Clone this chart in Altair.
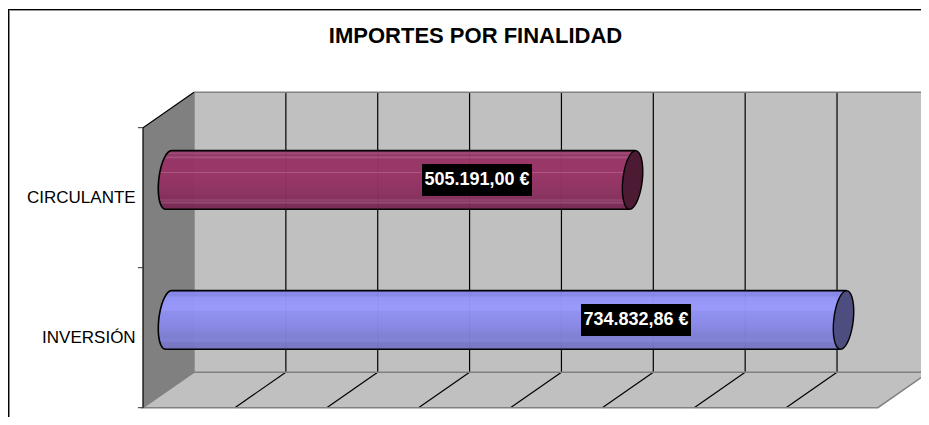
import altair as alt
import numpy as np
import pandas as pd

TITLE = "IMPORTES POR FINALIDAD"
CATEGORIES = ["INVERSIÓN", "CIRCULANTE"]
VALUES = [734832.86, 505191.00]
VALUE_LABELS = ["734.832,86 €", "505.191,00 €"]
LABEL_CENTRES = [536700.0, 363600.0]  # euros along the front axis, as placed in the reference
BODY_COLOURS = [
    [(0, "#7e7ee0"), (0.05, "#8a8aee"), (0.07, "#8484e6"), (0.12, "#9494f8"), (0.33, "#9999ff"), (0.35, "#9090f2"),
     (0.6, "#8888e6"), (0.78, "#7e7ed4"), (0.85, "#8282d8"), (0.9, "#7878c8"), (1, "#7474c0")],
    [(0, "#8a2f60"), (0.05, "#a04a78"), (0.07, "#8f3163"), (0.12, "#a8507e"), (0.14, "#973465"), (0.36, "#993366"),
     (0.37, "#ad5a85"), (0.39, "#993366"), (0.7, "#8c3060"), (0.83, "#842d5b"), (0.84, "#a35580"),
     (0.86, "#802c58"), (0.89, "#9a5078"), (0.91, "#7c2a56"), (1, "#762852")],
]
CAP_COLOURS = ["#4d4d80", "#4d1a33"]
GRID_VALUES = [100000, 200000, 300000, 400000, 500000, 600000, 700000]
AXIS_MAX = 800000
WALL = "#c0c0c0"
SIDE = "#808080"

# Plot size and 3-D projection of the reference's (value, category, depth) box
W, H = 913, 409
K = 91.86 / 100000        # px per euro
CAT = 140.0               # px per category
DEPTH_X, DEPTH_Y = 51.0, 35.5
X0, Y0 = 143.0 - 8, 407.7 - 8   # front-bottom corner inside plot


def px(v, d=0.0):
    return v + d * DEPTH_X / K


def py(c, d=0.0):
    return c + d * DEPTH_Y / CAT


xs = alt.Scale(domain=[-X0 / K, (W - X0) / K], range=[0, W], nice=False, zero=False)
ys = alt.Scale(domain=[-(H - Y0) / CAT, Y0 / CAT], range=[H, 0], nice=False, zero=False)
X = lambda f="x": alt.X(f"{f}:Q", scale=xs, axis=None)
Y = lambda f="y": alt.Y(f"{f}:Q", scale=ys, axis=None)


def poly(points, color="black", width=1.0):
    rows = [{"x": a, "y": b, "o": i} for i, (a, b) in enumerate(points)]
    return alt.Chart(pd.DataFrame(rows)).mark_line(color=color, strokeWidth=width, interpolate="linear").encode(
        x=X(), y=Y(), order="o:Q")


def segs(rows, color="black", width=1.0):
    return alt.Chart(pd.DataFrame(rows)).mark_rule(color=color, strokeWidth=width).encode(
        x=X("x"), x2="x2:Q", y=Y("y"), y2="y2:Q")


layers = []

# Frame of the chart
layers.append(alt.Chart(pd.DataFrame({"a": [0]})).mark_rule(color="#999999").encode(
    x=alt.value(1.5), y=alt.value(2), y2=alt.value(H)))
layers.append(alt.Chart(pd.DataFrame({"a": [0]})).mark_rule(color="#999999").encode(
    x=alt.value(1), x2=alt.value(W), y=alt.value(2.5)))
layers.append(alt.Chart(pd.DataFrame({"a": [0]})).mark_rule(color="black", strokeWidth=1.2).encode(
    x=alt.value(0.5), y=alt.value(1), y2=alt.value(H)))
layers.append(alt.Chart(pd.DataFrame({"a": [0]})).mark_rule(color="black", strokeWidth=1.2).encode(
    x=alt.value(0), x2=alt.value(W), y=alt.value(1.5)))

# Back wall
layers.append(alt.Chart(pd.DataFrame([{"x": px(0, 1), "x2": px(AXIS_MAX, 1), "y": py(0, 1), "y2": py(2, 1)}]))
              .mark_rect(color=WALL).encode(x=X("x"), x2="x2:Q", y=Y("y"), y2="y2:Q"))

# Floor
floor = pd.DataFrame([
    {"x": px(0, 0), "y": py(0, 0), "y2": py(0, 0)},
    {"x": px(0, 1), "y": py(0, 1), "y2": py(0, 0)},
    {"x": px(AXIS_MAX, 0), "y": py(0, 1), "y2": py(0, 0)},
    {"x": px(AXIS_MAX, 1), "y": py(0, 1), "y2": py(0, 1)},
])
layers.append(alt.Chart(floor).mark_area(color=WALL, interpolate="linear").encode(x=X(), y=Y(), y2="y2:Q"))

# Side wall
side = pd.DataFrame([
    {"x": px(0, 0), "y": py(2, 0), "y2": py(0, 0)},
    {"x": px(0, 1), "y": py(2, 1), "y2": py(0, 1)},
])
layers.append(alt.Chart(side).mark_area(color=SIDE, interpolate="linear").encode(x=X(), y=Y(), y2="y2:Q"))

# Grid on the wall and floor
layers.append(segs([{"x": px(v, 1), "x2": px(v, 1), "y": py(0, 1), "y2": py(2, 1)} for v in GRID_VALUES], "black", 1.2))
layers.append(segs([{"x": px(v, 0), "x2": px(v, 1), "y": py(0, 0), "y2": py(0, 1)} for v in GRID_VALUES], "black", 1.2))

# Gray edges
layers.append(poly([(px(0, 1), py(2, 1)), (px(AXIS_MAX, 1), py(2, 1)), (px(AXIS_MAX, 1), py(0, 1)), (px(0, 1), py(0, 1)),
                    (px(0, 1), py(2, 1))], color=SIDE, width=1.4))
layers.append(poly([(px(0, 1), py(0, 1)), (px(0, 0), py(0, 0)), (px(AXIS_MAX, 0), py(0, 0)), (px(AXIS_MAX, 1), py(0, 1))],
                   color=SIDE, width=1.5))

# Axis lines and ticks
layers.append(poly([(px(0, 1), py(2, 1)), (px(0, 0), py(2, 0)), (px(0, 0), py(0, 0))], color="black", width=1.2))
layers.append(segs([{"x": px(-5500), "x2": px(0), "y": float(c), "y2": float(c)} for c in range(3)], "#333333"))

# Cylinders
RAD_C = 29.3 / CAT
RX, SKEW = 9.8 / K, 3.0 / K
t = np.radians(np.arange(0, 361, 10))
for i, (cat, val) in enumerate(zip(CATEGORIES, VALUES)):
    cy = py(i + 0.5, 0.5)
    x_start, x_end = px(0, 0.5), px(val, 0.5)

    def ring(cx):
        return cx + RX * np.cos(t) + SKEW * np.sin(t), cy + RAD_C * np.sin(t)

    # body: left half of the near end, straight sides up to the far end
    lx, ly = ring(x_start)
    half = (t >= np.pi / 2) & (t <= 3 * np.pi / 2)
    hx, hy = lx[half], ly[half]           # from top, through left, to bottom
    imin = int(np.argmin(hx))
    top_x, top_y = hx[:imin + 1][::-1], hy[:imin + 1][::-1]
    bot_x, bot_y = hx[imin:], hy[imin:]
    xgrid = sorted(set(list(hx) + [x_end]))
    body = pd.DataFrame({
        "x": xgrid,
        "y": [float(np.interp(a, top_x, top_y, right=cy + RAD_C)) for a in xgrid],
        "y2": [float(np.interp(a, bot_x, bot_y, right=cy - RAD_C)) if a <= bot_x.max() else cy - RAD_C for a in xgrid],
    })
    gradient = alt.Gradient(gradient="linear", x1=0, x2=0, y1=0, y2=1,
                            stops=[alt.GradientStop(offset=o, color=c) for o, c in BODY_COLOURS[i]])
    layers.append(alt.Chart(body).mark_area(color=gradient, opacity=0.97, interpolate="linear").encode(
        x=X(), y=Y(), y2="y2:Q"))
    layers.append(poly([(x_end + SKEW, cy + RAD_C)] + list(zip(hx, hy)) + [(x_end - SKEW, cy - RAD_C)], width=1.6))

    # far end
    rx, ry = ring(x_end)
    tmask = np.sin(t) >= 0
    ux, uy = rx[tmask], ry[tmask]
    dx, dy = rx[~tmask], ry[~tmask]
    ui, di = np.argsort(ux), np.argsort(dx)
    cap_x = sorted(set(list(rx)))
    cap = pd.DataFrame({
        "x": cap_x,
        "y": [float(np.interp(a, ux[ui], uy[ui])) for a in cap_x],
        "y2": [float(np.interp(a, dx[di], dy[di])) for a in cap_x],
    })
    layers.append(alt.Chart(cap).mark_area(color=CAP_COLOURS[i], interpolate="linear").encode(x=X(), y=Y(), y2="y2:Q"))
    layers.append(poly(list(zip(rx, ry)), width=1.4))

    # value label
    lab = pd.DataFrame([{
        "x": LABEL_CENTRES[i] - 55 / K, "x2": LABEL_CENTRES[i] + 55 / K,
        "y": cy - 16 / CAT, "y2": cy + 16 / CAT,
        "tx": LABEL_CENTRES[i], "ty": cy, "t": VALUE_LABELS[i]}])
    layers.append(alt.Chart(lab).mark_rect(color="black").encode(x=X("x"), x2="x2:Q", y=Y("y"), y2="y2:Q"))
    layers.append(alt.Chart(lab).mark_text(color="white", fontWeight="bold", font="Liberation Sans", fontSize=18,
                                           baseline="middle", align="center").encode(
        x=X("tx"), y=Y("ty"), text="t:N"))

# Category labels
cats = pd.DataFrame({"x": [px(-8000)] * 2, "y": [py(i + 0.5) - 0.005 for i in range(2)], "t": CATEGORIES})
layers.append(alt.Chart(cats).mark_text(color="black", font="Liberation Sans", fontSize=17, align="right",
                                        baseline="middle").encode(x=X(), y=Y(), text="t:N"))

# Title
layers.append(alt.Chart(pd.DataFrame({"t": [TITLE]})).mark_text(
    color="black", font="Liberation Sans", fontSize=22, fontWeight="bold", align="center", baseline="middle"
).encode(x=alt.value(467.5), y=alt.value(28), text="t:N"))

chart = alt.layer(*layers).properties(width=W, height=H, padding=0, background="white",
                                      autosize=alt.AutoSizeParams(type="none")).configure_view(stroke=None)
chart.save("out.html", embed_options={"renderer": "svg", "actions": False})
